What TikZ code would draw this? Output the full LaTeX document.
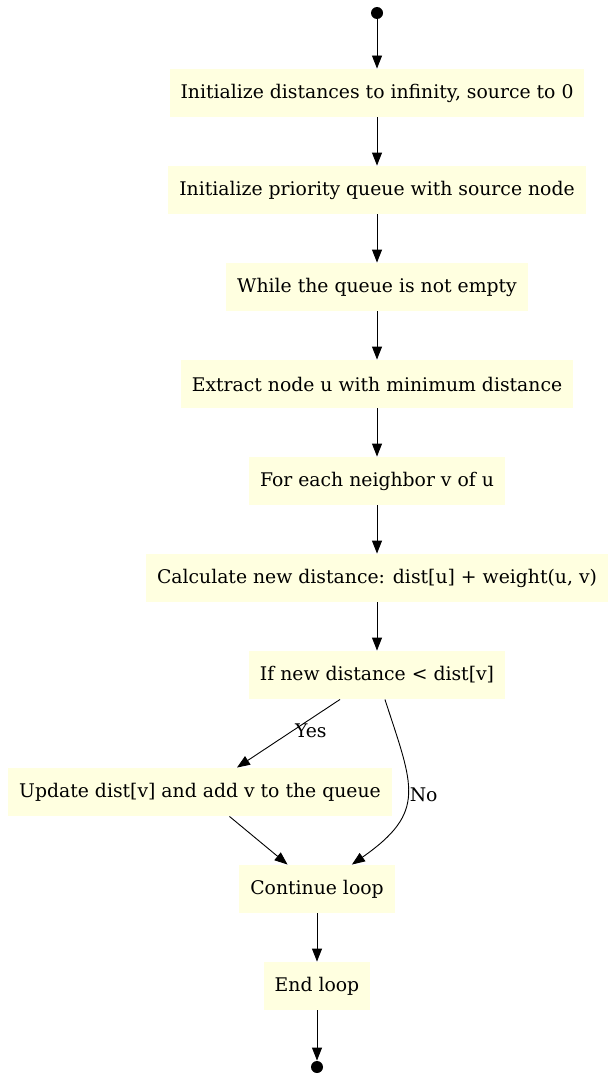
\documentclass[tikz,border=0pt]{standalone}
\usepackage{fontspec}
\setmainfont{DejaVu Serif}
\usetikzlibrary{arrows.meta}

\definecolor{boxfill}{RGB}{255,255,224}

\begin{document}
\begin{tikzpicture}[->,>={Triangle[length=13pt,width=10pt]},auto,node distance=97pt,
                    line width=0.9pt]
  \tikzstyle{stepbox}=[rectangle,fill=boxfill,minimum height=48pt,inner xsep=11pt,
                       font=\fontsize{18.8}{22}\selectfont]
  \tikzstyle{dot}=[circle,fill=black,inner sep=0pt,minimum size=12pt]
  \tikzstyle{lbl}=[font=\fontsize{18.8}{22}\selectfont,inner sep=2pt]

  \useasboundingbox (0pt,0pt) rectangle (612pt,-1081pt);

  \node[stepbox] (init)  at (377pt,-93pt)  {Initialize distances to infinity, source to 0};
  \node[dot]     (start) [above of=init,node distance=80pt] {};
  \node[stepbox] (pq)    [below of=init]   {Initialize priority queue with source node};
  \node[stepbox] (loop)  [below of=pq]     {While the queue is not empty};
  \node[stepbox] (ext)   [below of=loop]   {Extract node u with minimum distance};
  \node[stepbox] (nbr)   [below of=ext]    {For each neighbor v of u};
  \node[stepbox] (calc)  [below of=nbr]    {Calculate new distance: dist[u] + weight(u, v)};
  \node[stepbox] (cond)  [below of=calc]   {If new distance < dist[v]};
  \node[stepbox] (upd)   [below of=cond,xshift=-177pt,yshift=-20pt]
                                           {Update dist[v] and add v to the queue};
  \node[stepbox] (cont)  [below of=upd,xshift=117pt] {Continue loop};
  \node[stepbox] (endl)  [below of=cont]   {End loop};
  \node[dot]     (stop)  [below of=endl,node distance=81pt] {};

  \path (start) edge (init)
        (init)  edge (pq)
        (pq)    edge (loop)
        (loop)  edge (ext)
        (ext)   edge (nbr)
        (nbr)   edge (calc)
        (calc)  edge (cond)
        (cond)  edge node[lbl,pos=0.46,anchor=west] {Yes} (upd)
                edge [out=-72,in=35,looseness=1.4]
                     node[lbl,pos=0.5,anchor=west] {No} (cont)
        (upd)   edge (cont)
        (cont)  edge (endl)
        (endl)  edge (stop);
\end{tikzpicture}
\end{document}
